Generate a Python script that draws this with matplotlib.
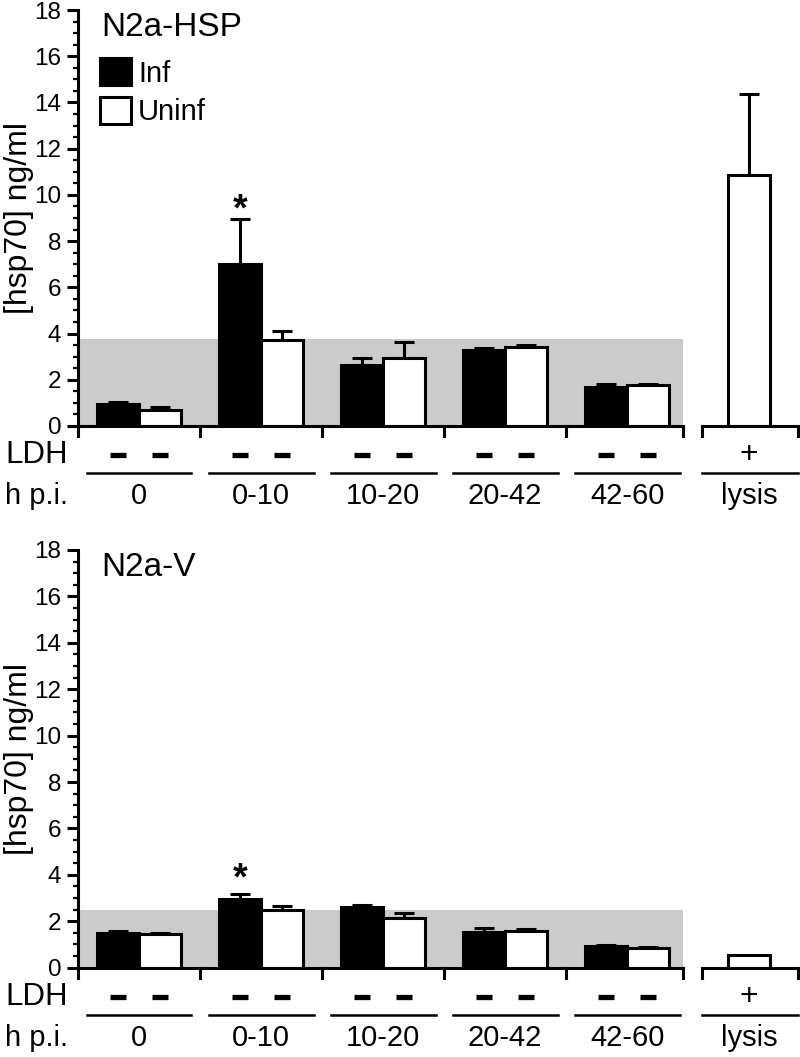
import matplotlib.pyplot as plt
import numpy as np
from matplotlib.patches import Rectangle
from matplotlib.ticker import MultipleLocator

plt.rcParams['font.family'] = ['Liberation Sans', 'DejaVu Sans']

# data (ng/ml)
groups = ['0', '0-10', '10-20', '20-42', '42-60']
lysis_label = 'lysis'

hsp_inf = [0.95, 7.02, 2.63, 3.28, 1.67]
hsp_inf_err = [0.07, 1.93, 0.33, 0.11, 0.13]
hsp_uninf = [0.68, 3.72, 2.96, 3.42, 1.76]
hsp_uninf_err = [0.14, 0.37, 0.68, 0.08, 0.07]
hsp_lysis = 10.88
hsp_lysis_err = 3.5
hsp_band = 3.75

v_inf = [1.50, 2.94, 2.63, 1.55, 0.93]
v_inf_err = [0.06, 0.25, 0.09, 0.17, 0.06]
v_uninf = [1.47, 2.49, 2.16, 1.58, 0.85]
v_uninf_err = [0.04, 0.17, 0.21, 0.10, 0.05]
v_lysis = 0.56
v_lysis_err = 0.0
v_band = 2.5

ldh = ['-'] * len(groups) + ['+']

w = 0.344
main_end = 4.46
lys_start, lys_end = 4.615, 5.40


def panel(ax, title, inf, inf_err, uninf, uninf_err, lys, lys_err, band, star_y, legend=False):
    x = np.arange(len(groups))
    lx = len(groups)

    ax.add_patch(Rectangle((-0.5, 0), main_end + 0.5, band, color='#cbcbcb', lw=0, zorder=0))
    ax.bar(x - w / 2, inf, w, color='black', edgecolor='black', lw=2.2, label='Inf', zorder=2)
    ax.bar(x + w / 2, uninf, w, color='white', edgecolor='black', lw=2.2, label='Uninf', zorder=2)
    ax.bar([lx], [lys], w, color='white', edgecolor='black', lw=2.2, zorder=2)

    ax.errorbar(x - w / 2, inf, yerr=[np.zeros(len(inf)), inf_err], fmt='none',
                ecolor='black', elinewidth=2.2, capsize=7.5, capthick=2.2, zorder=1)
    ax.errorbar(x + w / 2, uninf, yerr=[np.zeros(len(uninf)), uninf_err], fmt='none',
                ecolor='black', elinewidth=2.2, capsize=7.5, capthick=2.2, zorder=1)
    if lys_err > 0:
        ax.errorbar([lx], [lys], yerr=[[0], [lys_err]], fmt='none',
                    ecolor='black', elinewidth=2.2, capsize=7.5, capthick=2.2, zorder=1)

    # significance star over infected 0-10
    ax.text(x[1] - w / 2, star_y, '*', ha='center', va='baseline', fontsize=27, fontweight='bold')

    ax.set_xlim(-0.5, 5.4)
    ax.set_ylim(0, 18)
    ax.set_xticks([])
    ax.yaxis.set_major_locator(MultipleLocator(2))
    ax.yaxis.set_minor_locator(MultipleLocator(0.5))
    ax.tick_params(axis='y', which='major', length=8, width=2.2, labelsize=17.5, pad=4)
    ax.tick_params(axis='y', which='minor', length=3.8, width=1.6)
    for s in ['top', 'right', 'bottom']:
        ax.spines[s].set_visible(False)
    ax.spines['left'].set_linewidth(2.2)
    ax.spines['left'].set_bounds(0, 18)

    # broken baseline with group ticks
    tk = 0.43
    ax.plot([-0.5, main_end], [0, 0], color='black', lw=2.2, clip_on=False, solid_capstyle='projecting')
    for d in list(np.arange(len(groups)) - 0.5) + [main_end]:
        ax.plot([d, d], [0, -tk], color='black', lw=2.2, clip_on=False)
    ax.plot([lys_start, lys_end], [0, 0], color='black', lw=2.2, clip_on=False, solid_capstyle='projecting')
    for d in [lys_start, lys_end]:
        ax.plot([d, d], [0, -tk], color='black', lw=2.2, clip_on=False)

    # LDH row, underlines, h p.i. row
    y_ldh, y_line, y_hpi = -1.25, -2.05, -3.05
    ax.text(-0.58, y_ldh, 'LDH', ha='right', va='center', fontsize=22.5)
    ax.text(-0.58, y_hpi, 'h p.i.', ha='right', va='center', fontsize=21)
    bar_x = list(x - w / 2) + list(x + w / 2)
    minus_x = [bx for bx, s in zip(bar_x + [lx], ldh[:1] * len(bar_x) + ldh[-1:]) if s == '-']
    ax.plot(minus_x, [y_ldh] * len(minus_x), ls='none', marker='_', ms=11, mew=3.8,
            color='black', clip_on=False)
    ax.text(lx, y_ldh, ldh[-1], ha='center', va='center', fontsize=23)
    for c, lab in zip(x, groups):
        ax.plot([c - 0.43, c + 0.43], [y_line, y_line], color='black', lw=1.8, clip_on=False)
        ax.text(c, y_hpi, lab, ha='center', va='center', fontsize=21)
    ax.plot([lys_start, lys_end], [y_line, y_line], color='black', lw=1.8, clip_on=False)
    ax.text(lx, y_hpi, lysis_label, ha='center', va='center', fontsize=21)

    ax.text(0.032, 0.9375, title, transform=ax.transAxes, fontsize=24, va='baseline')
    ax.text(-0.082, 0.5, '[hsp70] ng/ml', transform=ax.transAxes, rotation=90,
            ha='center', va='center', fontsize=23)

    if legend:
        ax.legend(loc='upper left', bbox_to_anchor=(0.031, 0.884), frameon=False, fontsize=21,
                  handlelength=1.05, handleheight=1.05, handletextpad=0.25, labelspacing=0.3,
                  borderpad=0, borderaxespad=0)


fig = plt.figure(figsize=(8, 10.57), dpi=100)
ax1 = fig.add_axes([0.0975, 0.597, 0.9, 0.3935])
ax2 = fig.add_axes([0.0975, 0.0845, 0.9, 0.3952])

panel(ax1, 'N2a-HSP', hsp_inf, hsp_inf_err, hsp_uninf, hsp_uninf_err,
      hsp_lysis, hsp_lysis_err, hsp_band, 8.9, legend=True)
panel(ax2, 'N2a-V', v_inf, v_inf_err, v_uninf, v_uninf_err,
      v_lysis, v_lysis_err, v_band, 3.37)

fig.savefig('out.png', dpi=100)
